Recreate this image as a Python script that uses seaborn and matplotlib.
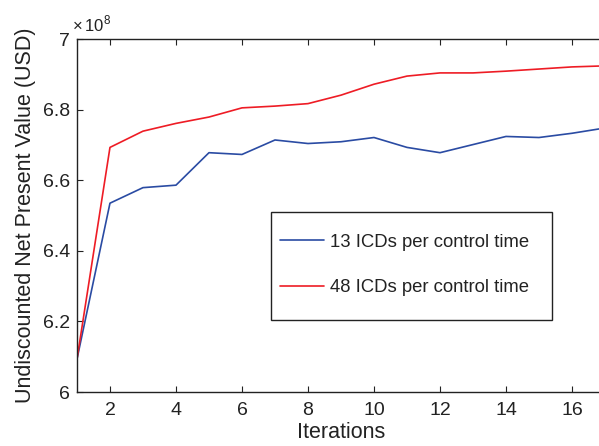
import numpy as np
import pandas as pd
import matplotlib
matplotlib.use("Agg")
import matplotlib.pyplot as plt
from matplotlib.patches import Rectangle
import seaborn as sns

iterations = list(range(1, 18))
npv_13 = [6.093, 6.535, 6.579, 6.586, 6.678, 6.673, 6.714, 6.704, 6.709, 6.721,
          6.693, 6.678, 6.701, 6.724, 6.721, 6.733, 6.748]
npv_48 = [6.093, 6.693, 6.739, 6.761, 6.779, 6.805, 6.810, 6.817, 6.841, 6.872,
          6.895, 6.904, 6.904, 6.909, 6.915, 6.921, 6.924]
series_labels = ["13 ICDs per control time", "48 ICDs per control time"]
colors = ["#2a4ba3", "#ee1c25"]

df = pd.DataFrame({
    "Iterations": iterations * 2,
    "NPV": npv_13 + npv_48,
    "Series": [series_labels[0]] * len(iterations) + [series_labels[1]] * len(iterations),
})

sns.set_style("ticks")
plt.rcParams["font.family"] = ["Liberation Sans", "DejaVu Sans"]
plt.rcParams["font.size"] = 13
plt.rcParams["mathtext.fontset"] = "custom"
plt.rcParams["mathtext.rm"] = "Liberation Sans"

fig = plt.figure(figsize=(5.99, 4.46), dpi=100)
ax = fig.add_axes([0.1285, 0.121, 0.8815, 0.7915])

sns.lineplot(data=df, x="Iterations", y="NPV", hue="Series", palette=colors,
             linewidth=1.2, ax=ax, legend=True)

ax.set_xlim(1, 17)
ax.set_ylim(6, 7)
ax.set_xticks([2, 4, 6, 8, 10, 12, 14, 16])
ax.set_yticks([6, 6.2, 6.4, 6.6, 6.8, 7])
ax.set_yticklabels(["6", "6.2", "6.4", "6.6", "6.8", "7"])
ax.tick_params(direction="in", top=True, right=True, length=4, width=0.8,
               labelsize=14, colors="#222222", labelcolor="#222222", pad=5)
ax.tick_params(axis="x", pad=7)
for sp in ax.spines.values():
    sp.set_visible(True)
    sp.set_linewidth(1.0)
    sp.set_color("#222222")

ax.set_xlabel("Iterations", fontsize=15.5, color="#222222", labelpad=2.5)
ax.set_ylabel("Undiscounted Net Present Value (USD)", fontsize=15.5, color="#222222", labelpad=5)
ax.text(-0.01, 1.012, r"$\times\,10^{8}$", transform=ax.transAxes, fontsize=12,
        color="#222222", ha="left", va="bottom")

# legend frame (drawn as a box) and legend entries
ax.add_patch(Rectangle((0.367, 0.204), 0.533, 0.306, transform=ax.transAxes,
                       facecolor="white", edgecolor="#222222", linewidth=1.0, zorder=4))
leg = ax.legend(loc="center left", bbox_to_anchor=(0.3845, 0.36), frameon=False,
                fontsize=13.3, handlelength=2.4, handletextpad=0.3, labelspacing=1.55,
                borderpad=0, borderaxespad=0)
leg.set_zorder(5)
for t in leg.get_texts():
    t.set_color("#222222")

fig.savefig("out.png", dpi=100)
